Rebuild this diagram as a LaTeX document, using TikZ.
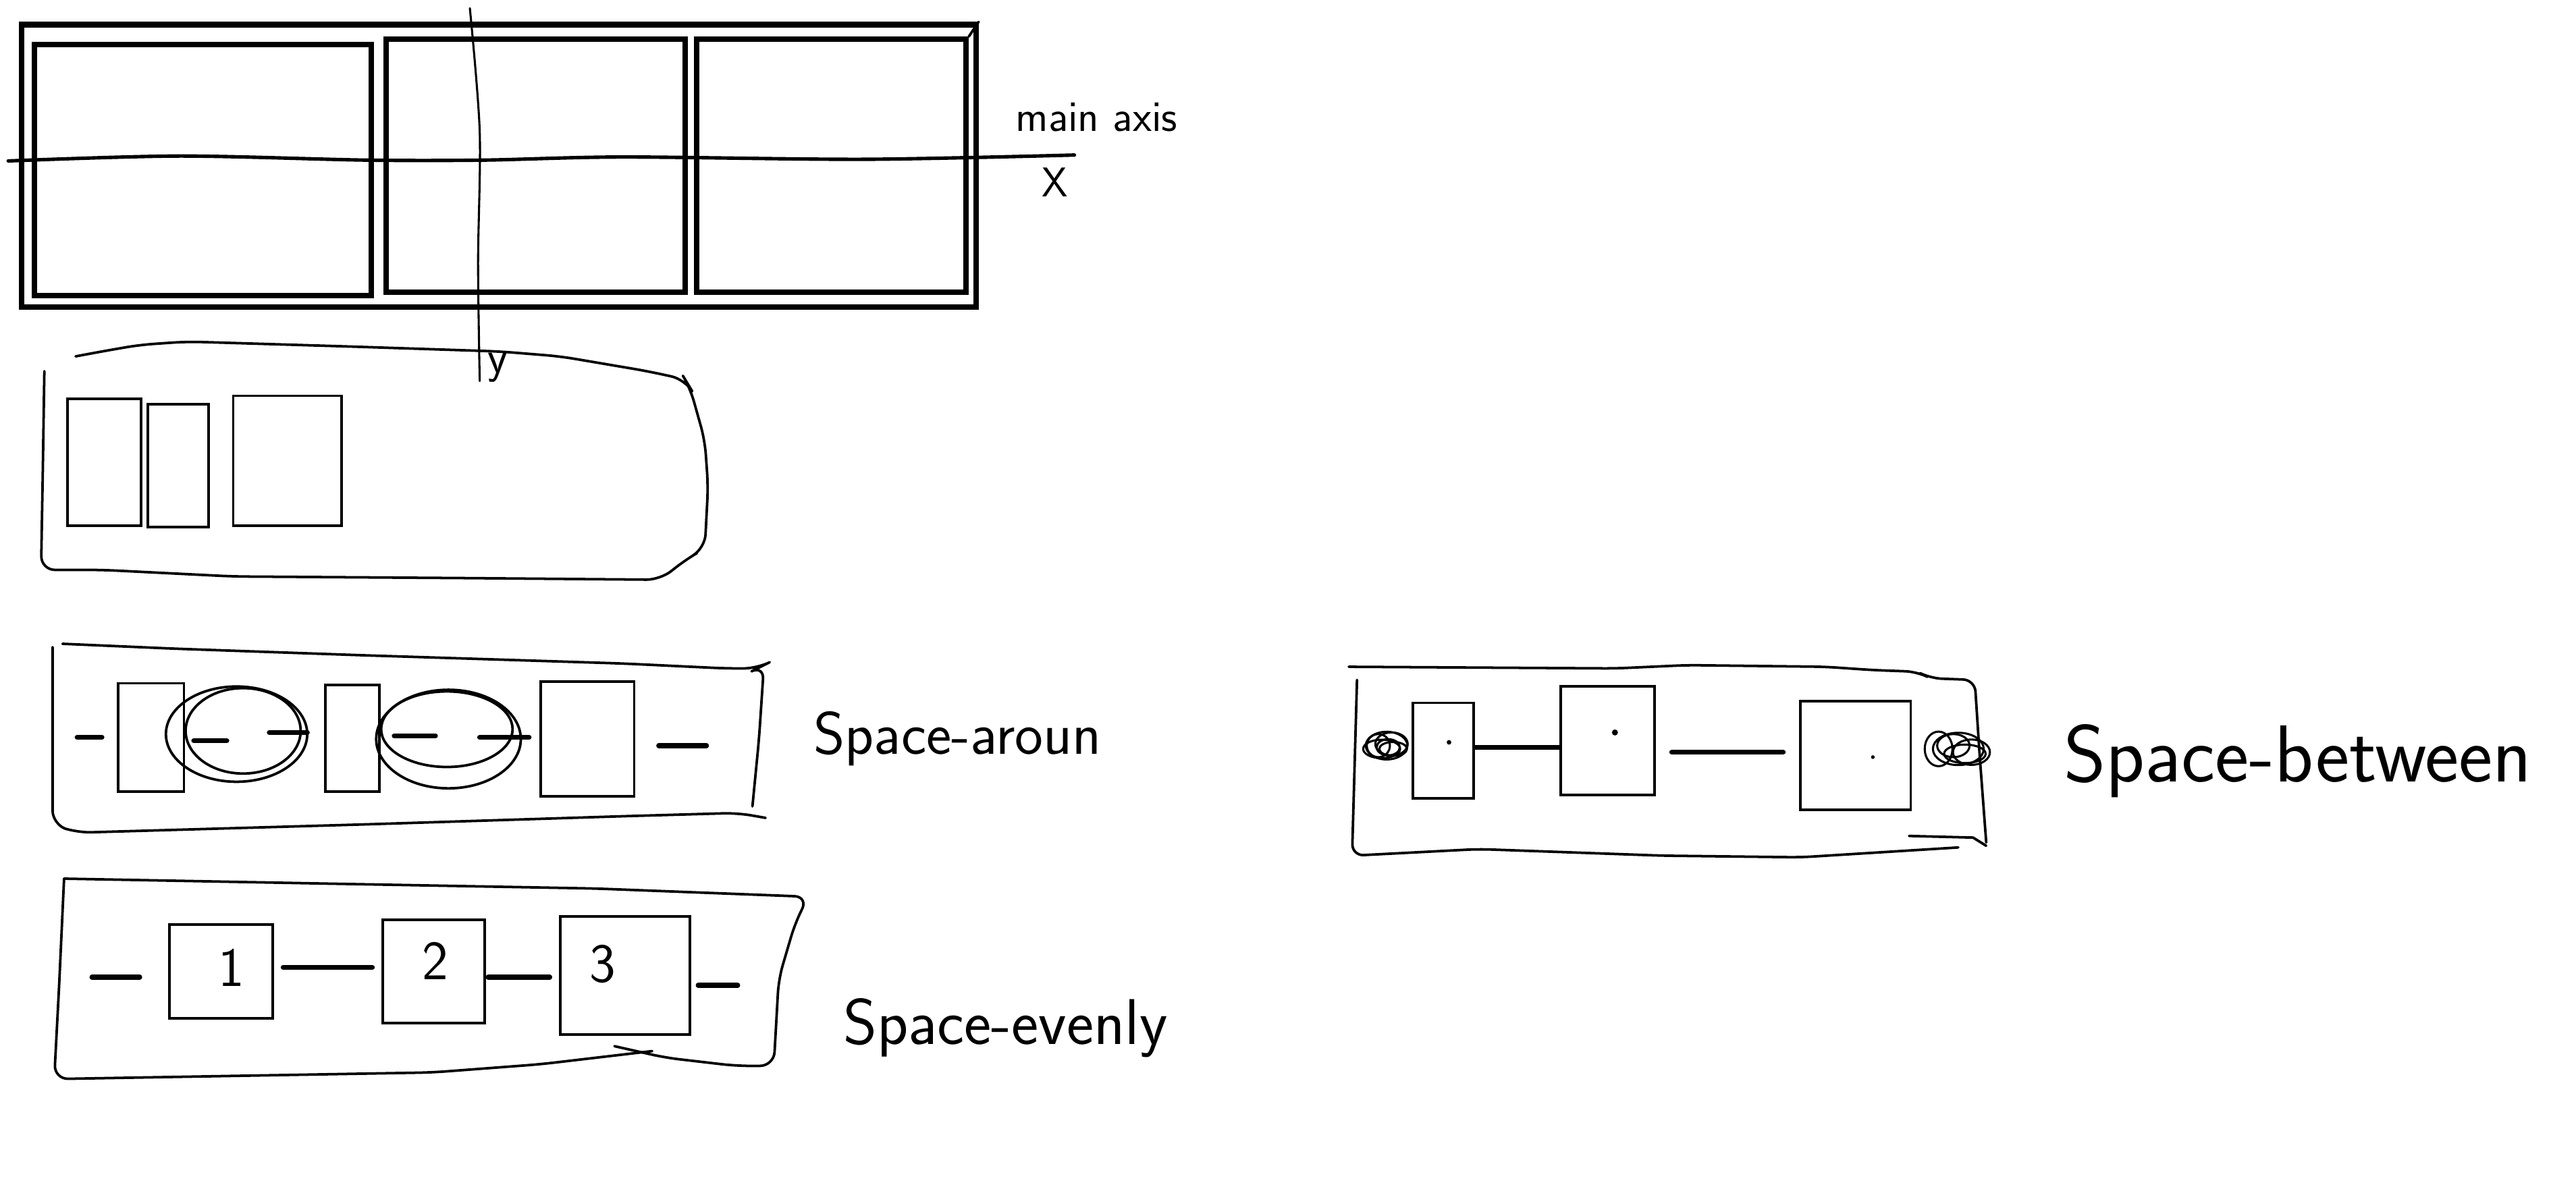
\documentclass[tikz,border=0pt]{standalone}
\usetikzlibrary{fit}

\begin{document}
\begin{tikzpicture}[x=0.025cm,y=-0.025cm]
\tikzset{
  sketch/.style={line width=1.1pt,line cap=round,line join=round},
  frame/.style={draw,line width=2.4pt,inner sep=0pt},
  itembox/.style={draw,line width=1.1pt,inner sep=0pt},
  gapline/.style={line width=2.2pt,line cap=round},
  scrawl/.style={inner sep=0pt,font=\sffamily\fontsize{#1}{#1}\selectfont},
  scrawl/.default=24
}
\useasboundingbox (0,0) rectangle (1568,720);

% flex container with main and cross axis
\node[frame,fit={(13,15) (594,187)}] (flexbox) {};
\node[frame,fit={(21,27) (226,180)}] (flex_a) {};
\node[frame,fit={(235,24) (417,178)}] (flex_b) {};
\node[frame,fit={(424,24) (588,178)}] (flex_c) {};
\draw[sketch] (flexbox.north east) -- (flex_c.north east);
\draw[sketch,line width=1.5pt] plot[smooth] coordinates {(5,98) (109,95) (223,97.5) (294,97.5) (379,95.6) (526,97) (654,94.4)};
\draw[sketch,line width=0.9pt] plot[smooth] coordinates {(286,5) (292,80) (291,160) (292,232)};
\node[scrawl=19,anchor=base west] (lbl_main) at (618,80) {main axis};
\node[scrawl=18] (lbl_x) at (642,111) {X};
\node[scrawl=20] (lbl_y) at (303,224) {y};

% wrapped container
\draw[sketch,rounded corners=6pt] (46,217) -- (62,214) -- (85,210) -- (114,208) -- (213,211) -- (304,214) -- (341,217) -- (394,226) -- (417,231) -- (420,236) -- (429,268) -- (431,296) -- (429,334) -- (417,341) -- (402,353) -- (284,352) -- (142,351) -- (62,347) -- (25,347) -- (26,290) -- (27,226);
\node[itembox,fit={(41,243) (86,320)}] (wrap_a) {};
\node[itembox,fit={(90,246) (127,321)}] (wrap_b) {};
\node[itembox,fit={(142,241) (208,320)}] (wrap_c) {};

% space-around
\draw[sketch,rounded corners=6pt] (38,392) -- (107,395) -- (221,399) -- (316,402) -- (379,404) -- (442,407) -- (461,407) -- (465,405) -- (462,450) -- (458,491);
\draw[sketch,rounded corners=6pt] (466,498) -- (449,495) -- (379,497) -- (221,502) -- (47,507) -- (32,502) -- (32,394);
\node[itembox,fit={(72,416) (112,482)}] (around_a) {};
\node[itembox,fit={(198,417) (231,482)}] (around_b) {};
\node[itembox,fit={(329,415) (386,485)}] (around_c) {};
\draw[sketch] (144,447) ellipse [x radius=1.075cm, y radius=0.725cm];
\draw[sketch] (148,445) ellipse [x radius=0.875cm, y radius=0.65cm];
\draw[sketch] (273,450) ellipse [x radius=1.1cm, y radius=0.75cm];
\draw[sketch] (272,444) ellipse [x radius=1cm, y radius=0.575cm];
\draw[gapline] (47,449) -- (62,449);
\draw[gapline] (118,451) -- (138,451);
\draw[gapline] (164,446) -- (187,446);
\draw[gapline] (240,448) -- (265,448);
\draw[gapline] (292,449) -- (322,449);
\draw[gapline] (401,454) -- (430,454);
\node[scrawl=26,anchor=base west] (lbl_around) at (495,459) {Space-aroun};

% space-evenly
\draw[sketch,rounded corners=6pt] (39,535) -- (198,538) -- (362,541) -- (492,546) -- (484,562) -- (474,596) -- (471,649) -- (448,649) -- (405,644) -- (374,637);
\draw[sketch,rounded corners=6pt] (397,640) -- (329,648) -- (263,653) -- (33,657) -- (36,600) -- (39,535);
\node[itembox,fit={(103,563) (166,620)}] (even_1) {};
\node[itembox,fit={(233,560) (295,623)}] (even_2) {};
\node[itembox,fit={(341,558) (420,630)}] (even_3) {};
\node[scrawl=24] (num_1) at (141,589) {1};
\node[scrawl=24] (num_2) at (265,585) {2};
\node[scrawl=24] (num_3) at (367,587) {3};
\draw[gapline] (56,595) -- (85,595);
\draw[gapline,shorten <=4pt,shorten >=4pt] (even_1.east |- 0,589) -- (even_2.west |- 0,589);
\draw[gapline,shorten <=1pt,shorten >=4pt] (even_2.east |- 0,595) -- (even_3.west |- 0,595);
\draw[gapline] (425,600) -- (449,600);
\node[scrawl=28,anchor=base west] (lbl_evenly) at (513,636) {Space-evenly};

% space-between
\draw[sketch,rounded corners=5pt] (821,406) -- (983,407) -- (1027,405) -- (1111,406) -- (1140,408) -- (1167,409) -- (1175,413) -- (1202,414) -- (1205,460) -- (1209,513);
\draw[sketch] (1162,509) -- (1201,510) -- (1209,515);
\draw[sketch,rounded corners=5pt] (1192,516) -- (1096,522) -- (1012,521) -- (900,517) -- (823,521) -- (826,414);
\node[itembox,fit={(860,428) (897,486)}] (between_a) {};
\node[itembox,fit={(950,418) (1007,484)}] (between_b) {};
\node[itembox,fit={(1096,427) (1163,493)}] (between_c) {};
\draw[gapline] (between_a.east |- 0,455) -- (between_b.west |- 0,455);
\draw[gapline,shorten <=7pt,shorten >=7pt] (between_b.east |- 0,458) -- (between_c.west |- 0,458);
\foreach \dx/\dy/\rx/\ry in {0/0/9/6, 3/-1/7/5, -3/2/8/4, 1/1/5/3.5, -5/0/5/5, 4/2/6/3}
  \draw[sketch,line width=0.9pt] ({844+\dx},{454+\dy}) ellipse [x radius=\rx pt, y radius=\ry pt];
\foreach \dx/\dy/\rx/\ry in {0/0/11/7, -12/0/6/7.5, 8/2/8/5.5, -3/-2/7/5, 4/3/9/4}
  \draw[sketch,line width=0.9pt] ({1192+\dx},{456+\dy}) ellipse [x radius=\rx pt, y radius=\ry pt];
\fill (882,452) circle [radius=1pt];
\fill (983,446) circle [radius=1.3pt];
\fill (1140,461) circle [radius=0.8pt];
\node[scrawl=35,anchor=base west] (lbl_between) at (1256,476) {Space-between};
\end{tikzpicture}
\end{document}
